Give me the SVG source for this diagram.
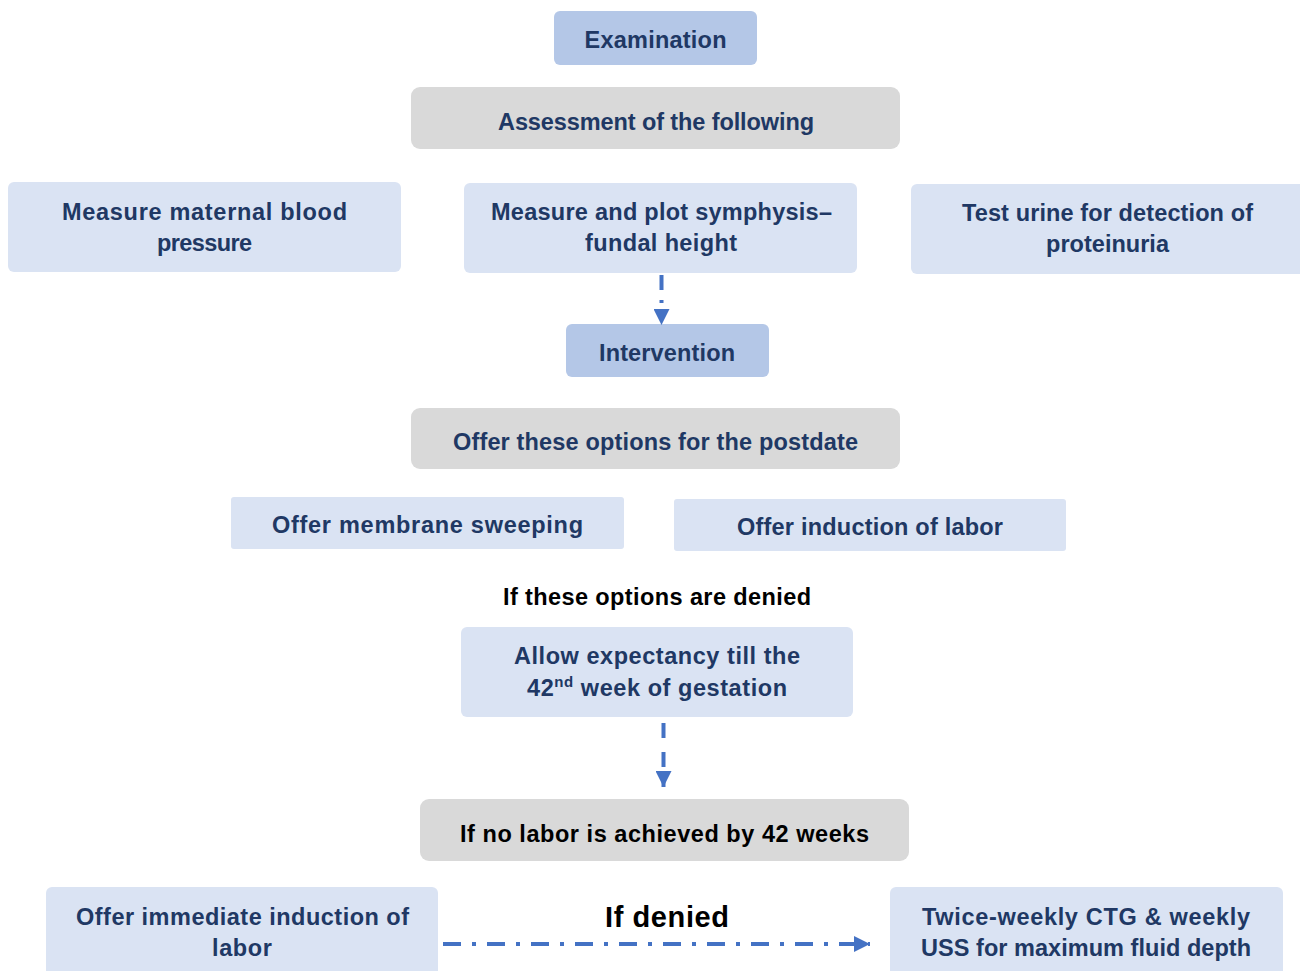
<svg xmlns="http://www.w3.org/2000/svg" width="1300" height="971" viewBox="0 0 1300 971">
  <style>
    .t { font-family: "Liberation Sans", Arial, sans-serif; font-weight: bold; font-size: 23.5px; fill: #203864; text-anchor: middle; }
    .k { fill: #000000; }
    .big { font-size: 29px; }
    .dark { fill: #b4c7e7; }
    .light { fill: #dae3f3; }
    .grey { fill: #d9d9d9; }
    .conn { stroke: #4472c4; stroke-width: 4; fill: none; }
  </style>
  <defs>
    <marker id="head" viewBox="0 0 10 10" refX="10" refY="5" markerUnits="userSpaceOnUse" markerWidth="16" markerHeight="16" orient="auto">
      <path d="M0,0 L10,5 L0,10 Z" fill="#4472c4"/>
    </marker>
  </defs>

  <rect width="1300" height="971" fill="#ffffff"/>

  <g id="examination">
    <rect class="dark" x="554" y="11" width="203" height="54" rx="6"/>
    <text class="t" x="655.5" y="48" textLength="142">Examination</text>
  </g>

  <g id="assessment">
    <rect class="grey" x="411" y="87" width="489" height="62" rx="9"/>
    <text class="t" x="656" y="130" textLength="316">Assessment of the following</text>
  </g>

  <g id="blood-pressure">
    <rect class="light" x="8" y="182" width="393" height="90" rx="6"/>
    <text class="t" x="204.5" y="220" textLength="285">Measure maternal blood</text>
    <text class="t" x="204.5" y="251" textLength="95">pressure</text>
  </g>

  <g id="fundal-height">
    <rect class="light" x="464" y="183" width="393" height="90" rx="6"/>
    <text class="t" x="661.5" y="220" textLength="341">Measure and plot symphysis–</text>
    <text class="t" x="661" y="251" textLength="152">fundal height</text>
  </g>

  <g id="urine-test">
    <rect class="light" x="911" y="184" width="394" height="90" rx="6"/>
    <text class="t" x="1107.5" y="221" textLength="291">Test urine for detection of</text>
    <text class="t" x="1107.5" y="252" textLength="123">proteinuria</text>
  </g>

  <g id="intervention">
    <rect class="dark" x="566" y="324" width="203" height="53" rx="6"/>
    <text class="t" x="667" y="361" textLength="136">Intervention</text>
  </g>

  <g id="postdate-options">
    <rect class="grey" x="411" y="408" width="489" height="61" rx="9"/>
    <text class="t" x="655.5" y="450" textLength="405">Offer these options for the postdate</text>
  </g>

  <g id="membrane-sweeping">
    <rect class="light" x="231" y="497" width="393" height="52" rx="3"/>
    <text class="t" x="427.5" y="533" textLength="311">Offer membrane sweeping</text>
  </g>

  <g id="induction">
    <rect class="light" x="674" y="499" width="392" height="52" rx="3"/>
    <text class="t" x="870" y="535" textLength="266">Offer induction of labor</text>
  </g>

  <g id="options-denied">
    <text class="t k" x="657" y="605" textLength="308">If these options are denied</text>
  </g>

  <g id="expectancy">
    <rect class="light" x="461" y="627" width="392" height="90" rx="6"/>
    <text class="t" x="657" y="664" textLength="286">Allow expectancy till the</text>
    <text class="t" x="657" y="696" textLength="260">42<tspan font-size="15" dy="-9">nd</tspan><tspan dy="9"> week of gestation</tspan></text>
  </g>

  <g id="no-labor">
    <rect class="grey" x="420" y="799" width="489" height="62" rx="9"/>
    <text class="t k" x="664.5" y="842" textLength="409">If no labor is achieved by 42 weeks</text>
  </g>

  <g id="immediate-induction">
    <rect class="light" x="46" y="887" width="392" height="95" rx="6"/>
    <text class="t" x="242.5" y="925" textLength="333">Offer immediate induction of</text>
    <text class="t" x="242" y="956" textLength="60">labor</text>
  </g>

  <g id="if-denied">
    <text class="t k big" x="667" y="927" textLength="124">If denied</text>
  </g>

  <g id="monitoring">
    <rect class="light" x="890" y="887" width="393" height="95" rx="6"/>
    <text class="t" x="1086" y="925" textLength="328">Twice-weekly CTG &amp; weekly</text>
    <text class="t" x="1086" y="956" textLength="330">USS for maximum fluid depth</text>
  </g>

  <g id="connectors">
    <line class="conn" x1="661.5" y1="275" x2="661.5" y2="325" stroke-dasharray="15 10 3 50" marker-end="url(#head)"/>
    <line class="conn" x1="663.5" y1="723" x2="663.5" y2="787" stroke-dasharray="15 14" marker-end="url(#head)"/>
    <line class="conn" x1="443" y1="944" x2="870" y2="944" stroke-dasharray="18 11 4 11" marker-end="url(#head)"/>
  </g>
</svg>
